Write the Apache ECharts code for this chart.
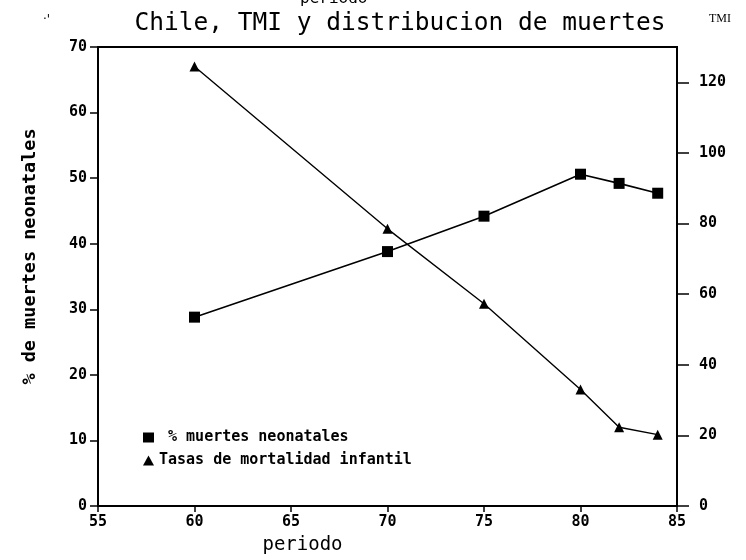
<!DOCTYPE html>
<html><head><meta charset="utf-8">
<script src="https://cdn.jsdelivr.net/npm/echarts@6/dist/echarts.min.js"></script>
<style>html,body{margin:0;padding:0;background:#fff}#c{width:746px;height:560px}</style>
</head><body><div id="c"></div>
<script>
const periodos = [60, 70, 75, 80, 82, 84];
const pctNeonatales = [28.8, 38.8, 44.2, 50.6, 49.2, 47.7];
const periodosTMI = [60, 70, 75, 80, 82, 84];
const tasasTMI = [124.5, 78.5, 57.3, 33, 22.3, 20.2];
const rightTicks = [0, 20, 40, 60, 80, 100, 120];

const mono = "'DejaVu Sans Mono', monospace";
const chart = echarts.init(document.getElementById('c'), null, {renderer: 'canvas'});
chart.setOption({
  backgroundColor: '#fff',
  animation: false,
  title: {
    text: 'Chile, TMI y distribucion de muertes',
    left: 395, top: 6, textAlign: 'center',
    textStyle: {fontFamily: mono, fontSize: 24.5, fontWeight: 'normal', color: '#000'}
  },
  legend: {
    orient: 'vertical', left: 138, top: 425, itemGap: 8, itemWidth: 11, itemHeight: 10,
    textStyle: {fontFamily: mono, fontSize: 15, fontWeight: 'bold', color: '#000'},
    formatter: n => n === '% muertes neonatales' ? ' ' + n : n,
    data: [{name: '% muertes neonatales', icon: 'rect'}, {name: 'Tasas de mortalidad infantil', icon: 'triangle'}]
  },
  grid: {left: 98, right: 69, top: 47, bottom: 52, show: true, borderColor: '#000', borderWidth: 2},
  xAxis: {
    type: 'value', min: 55, max: 85, interval: 5,
    name: 'periodo', nameLocation: 'middle', nameGap: 30,
    nameTextStyle: {fontFamily: mono, fontSize: 19, color: '#000', padding: [0, 170, 0, 0]},
    axisLine: {lineStyle: {color: '#000', width: 2}},
    axisTick: {length: 6, lineStyle: {color: '#000', width: 1.5}},
    axisLabel: {fontFamily: mono, fontSize: 15, fontWeight: 'bold', color: '#000', margin: 9},
    splitLine: {show: false}
  },
  yAxis: [{
    type: 'value', min: 0, max: 70, interval: 10, position: 'left',
    name: '% de muertes neonatales', nameLocation: 'middle', nameGap: 58, nameRotate: 90,
    nameTextStyle: {fontFamily: mono, fontSize: 18.5, fontWeight: 'bold', color: '#000', padding: [0, 0, 0, 40]},
    axisLine: {show: true, lineStyle: {color: '#000', width: 2}},
    axisTick: {length: 8, lineStyle: {color: '#000', width: 1.5}},
    axisLabel: {fontFamily: mono, fontSize: 15, fontWeight: 'bold', color: '#000', margin: 11},
    splitLine: {show: false}
  }, {
    type: 'value', min: 0, max: 130, position: 'right',
    name: 'TMI', nameLocation: 'end', nameGap: 22,
    nameTextStyle: {fontFamily: "'Liberation Serif', serif", fontSize: 12, color: '#000', padding: [0, 0, 0, 86]},
    axisLine: {show: true, lineStyle: {color: '#000', width: 2}},
    axisTick: {length: 12, customValues: rightTicks, lineStyle: {color: '#000', width: 1.5}},
    axisLabel: {customValues: rightTicks, fontFamily: mono, fontSize: 15, fontWeight: 'bold', color: '#000', margin: 22},
    splitLine: {show: false}
  }],
  graphic: [
    {type: 'text', left: 300, top: -9, style: {text: 'periodo', font: "16px 'DejaVu Sans Mono'", fill: '#000'}},
    {type: 'text', left: 43, top: 14, style: {text: "·'", font: "12px 'DejaVu Sans'", fill: '#000'}}
  ],
  series: [{
    name: '% muertes neonatales', type: 'line', yAxisIndex: 0,
    data: periodos.map((p, i) => [p, pctNeonatales[i]]),
    symbol: 'rect', symbolSize: 11,
    lineStyle: {color: '#000', width: 1.6}, itemStyle: {color: '#000'}
  }, {
    name: 'Tasas de mortalidad infantil', type: 'line', yAxisIndex: 1,
    data: periodosTMI.map((p, i) => [p, tasasTMI[i]]),
    symbol: 'triangle', symbolSize: 10,
    lineStyle: {color: '#000', width: 1.4}, itemStyle: {color: '#000'}
  }]
});
</script></body></html>
